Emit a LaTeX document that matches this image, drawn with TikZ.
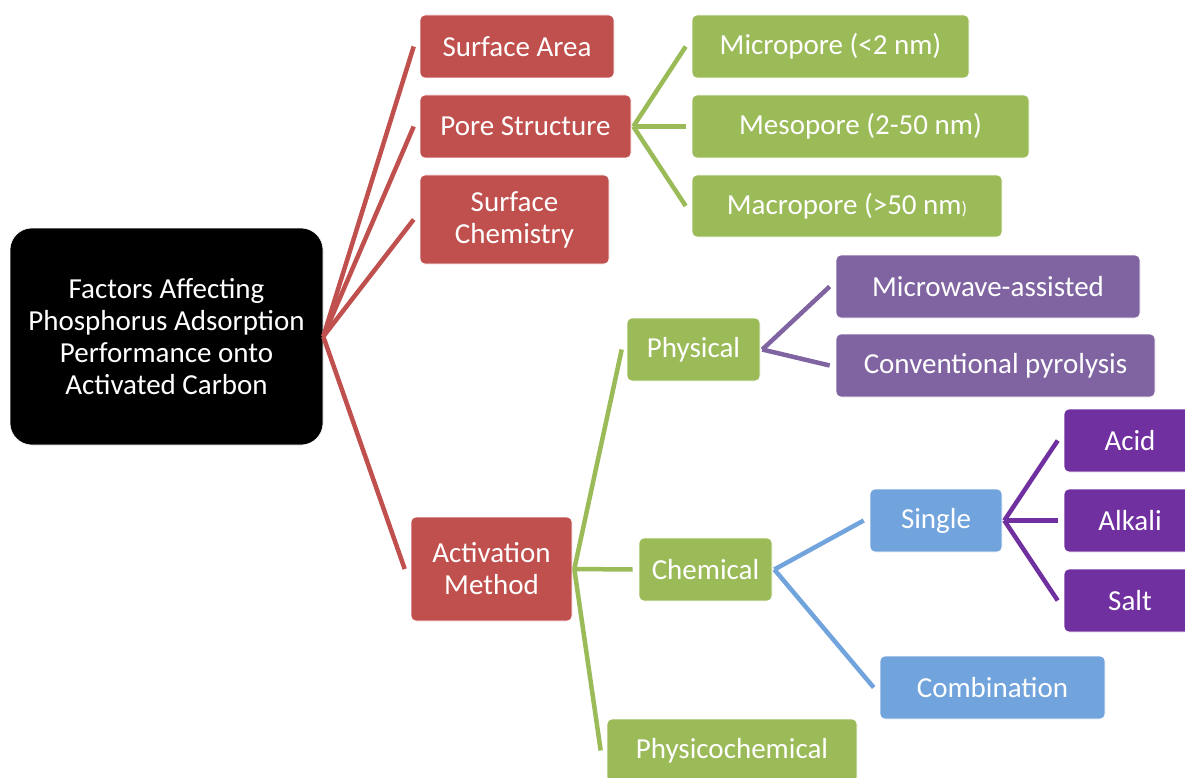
\documentclass[tikz,border=0pt]{standalone}
\usepackage{fontspec}
\setmainfont{Carlito}
\definecolor{cred}{HTML}{C0504D}
\definecolor{cgreen}{HTML}{9BBB59}
\definecolor{clav}{HTML}{8064A2}
\definecolor{cblue}{HTML}{71A3DC}
\definecolor{cpurp}{HTML}{7030A0}
\begin{document}
\begin{tikzpicture}[x=1pt,y=-1pt,
  box/.style={rounded corners=5pt, text=white, align=center, inner sep=0pt,
    font=\fontsize{29}{32}\selectfont, draw=white, line width=0.6pt},
  conn/.style={line width=4.5pt, line join=miter}]
\useasboundingbox (0,0) rectangle (1185,778);
\clip (0,0) rectangle (1185,778);
% root
\node[box, fill=black, rounded corners=22pt, minimum width=313, minimum height=217] (root) at (166.5,336.5)
  {Factors Affecting\\Phosphorus Adsorption\\Performance onto\\Activated Carbon};
% level 1
\node[box, fill=cred, minimum width=194, minimum height=63] (sa) at (517,46.5) {Surface Area};
\node[box, fill=cred, minimum width=211, minimum height=63] (ps) at (525.5,126.5) {Pore Structure};
\node[box, fill=cred, minimum width=189, minimum height=89] (sc) at (514.5,219.5) {Surface\\Chemistry};
\node[box, fill=cred, minimum width=161, minimum height=104] (am) at (491.5,569) {Activation\\Method};
% pores
\node[box, fill=cgreen, minimum width=277, minimum height=63] (mi) at (830.5,46.5) {Micropore (<2 nm)};
\node[box, fill=cgreen, minimum width=337, minimum height=63] (me) at (860.5,126.5) {Mesopore (2-50 nm)};
\node[box, fill=cgreen, minimum width=310, minimum height=62] (ma) at (847,206) {Macropore (>50 nm{\fontsize{18}{20}\selectfont)}};
% activation
\node[box, fill=cgreen, minimum width=133, minimum height=63] (phy) at (693.5,349.5) {Physical};
\node[box, fill=cgreen, minimum width=133, minimum height=63] (che) at (705.5,569.5) {Chemical};
\node[box, fill=cgreen, minimum width=250, minimum height=63] (pc) at (732,750.5) {Physicochemical};
% physical children
\node[box, fill=clav, minimum width=304, minimum height=63] (mw) at (988,286.5) {Microwave-assisted};
\node[box, fill=clav, minimum width=319, minimum height=63] (cp) at (995.5,365.5) {Conventional pyrolysis};
% chemical children
\node[box, fill=cblue, minimum width=132, minimum height=63] (si) at (936,520.5) {Single};
\node[box, fill=cblue, minimum width=225, minimum height=63] (co) at (992.5,687.5) {Combination};
% single children
\node[box, fill=cpurp, minimum width=132, minimum height=63] (ac) at (1130,440.5) {Acid};
\node[box, fill=cpurp, minimum width=132, minimum height=63] (al) at (1130,520.5) {Alkali};
\node[box, fill=cpurp, minimum width=132, minimum height=63] (sl) at (1130,600.5) {Salt};
% connectors
\begin{scope}[conn, draw=cred]
\draw (root.east) -- ([xshift=-6pt]sa.west);
\draw (root.east) -- ([xshift=-6pt]ps.west);
\draw (root.east) -- ([xshift=-6pt]sc.west);
\draw (root.east) -- ([xshift=-6pt]am.west);
\end{scope}
\begin{scope}[conn, draw=cgreen]
\draw ([xshift=2pt]ps.east) -- ([xshift=-6pt]mi.west);
\draw ([xshift=2pt]ps.east) -- ([xshift=-6pt]me.west);
\draw ([xshift=2pt]ps.east) -- ([xshift=-6pt]ma.west);
\draw ([xshift=2pt]am.east) -- ([xshift=-5pt]phy.west);
\draw ([xshift=2pt]am.east) -- ([xshift=-6pt]che.west);
\draw ([xshift=2pt]am.east) -- ([xshift=-6pt]pc.west);
\end{scope}
\begin{scope}[conn, draw=clav]
\draw ([xshift=2pt]phy.east) -- ([xshift=-6pt]mw.west);
\draw ([xshift=2pt]phy.east) -- ([xshift=-6pt]cp.west);
\end{scope}
\begin{scope}[conn, draw=cblue]
\draw ([xshift=2pt]che.east) -- ([xshift=-6pt]si.west);
\draw ([xshift=2pt]che.east) -- ([xshift=-6pt]co.west);
\end{scope}
\begin{scope}[conn, draw=cpurp]
\draw ([xshift=2pt]si.east) -- ([xshift=-6pt]ac.west);
\draw ([xshift=2pt]si.east) -- ([xshift=-6pt]al.west);
\draw ([xshift=2pt]si.east) -- ([xshift=-6pt]sl.west);
\end{scope}
\end{tikzpicture}
\end{document}
